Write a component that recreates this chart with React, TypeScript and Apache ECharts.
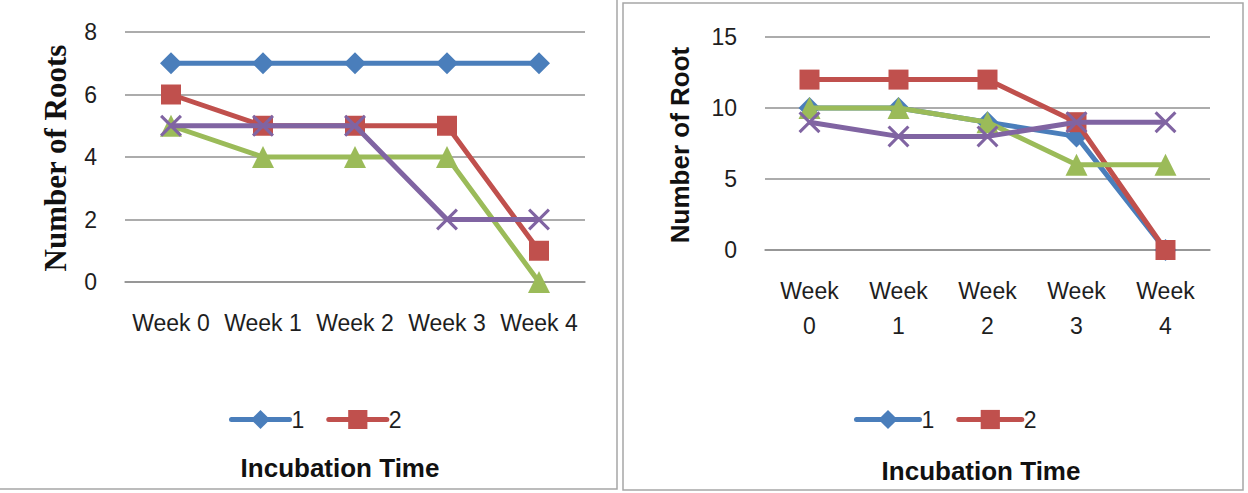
import React, { useEffect, useRef } from "react";
import * as echarts from "echarts";

const categories = ["Week 0", "Week 1", "Week 2", "Week 3", "Week 4"];
const seriesNames = ["1", "2", "3", "4"];
const leftS1 = [7, 7, 7, 7, 7];
const leftS2 = [6, 5, 5, 5, 1];
const leftS3 = [5, 4, 4, 4, 0];
const leftS4 = [5, 5, 5, 2, 2];
const rightS1 = [10, 10, 9, 8, 0];
const rightS2 = [12, 12, 12, 9, 0];
const rightS3 = [10, 10, 9, 6, 6];
const rightS4 = [9, 8, 8, 9, 9];
const legendItems = ["1", "2"];
const leftYName = "Number of Roots";
const rightYName = "Number of Root";
const xName = "Incubation Time";

const colors = ["#4A7EBB", "#C0504D", "#9BBB59", "#8064A2"];
const symbols = [
  "diamond",
  "rect",
  "triangle",
  "path://M0,1 L1,0 L5,4 L9,0 L10,1 L6,5 L10,9 L9,10 L5,6 L1,10 L0,9 L4,5 Z",
];
const symbolSizes = [22, 20, 22, 22];
const SANS = "Liberation Sans";

function makeSeries(data: number[][], idx: number) {
  return data.map((d, i) => ({
    type: "line",
    name: seriesNames[i],
    xAxisIndex: idx,
    yAxisIndex: idx,
    data: d,
    symbol: symbols[i],
    symbolSize: symbolSizes[i],
    showAllSymbol: true,
    lineStyle: { color: colors[i], width: 5 },
    itemStyle: { color: colors[i], borderWidth: 0 },
    emphasis: { disabled: true },
    z: 2 + i,
  }));
}

export default function App() {
  const ref = useRef<HTMLDivElement>(null);
  useEffect(() => {
    if (!ref.current) return;
    const chart = echarts.init(ref.current, null, { renderer: "svg" });
    const axisLabel = { color: "#1e1e1e", fontFamily: SANS, fontSize: 23 };
    const gridLine = { lineStyle: { color: "#909090", width: 1.5 } };
    const legendBase = {
      data: legendItems,
      top: 403,
      itemHeight: 24,
      itemGap: 22,
      lineStyle: { width: 5, cap: "round" },
      textStyle: { fontFamily: SANS, fontSize: 23, color: "#1e1e1e", padding: [0, 0, 0, -3] },
      selectedMode: false,
    };
    chart.setOption({
      animation: false,
      backgroundColor: "#fff",
      color: colors,
      grid: [
        { left: 125, right: 663, top: 32, bottom: 211 },
        { left: 765, right: 38, top: 37, bottom: 243 },
      ],
      xAxis: [
        {
          type: "category",
          gridIndex: 0,
          data: categories,
          boundaryGap: true,
          axisLine: { show: true, lineStyle: { color: "#909090", width: 1.5 } },
          axisTick: { show: false },
          axisLabel: { ...axisLabel, interval: 0, margin: 26, lineHeight: 30 },
        },
        {
          type: "category",
          gridIndex: 1,
          data: categories,
          boundaryGap: true,
          axisLine: { show: true, lineStyle: { color: "#909090", width: 1.5 } },
          axisTick: { show: false },
          axisLabel: {
            ...axisLabel,
            interval: 0,
            margin: 23,
            lineHeight: 35,
            formatter: (v: string) => v.replace(" ", "\n"),
          },
        },
      ],
      yAxis: [
        {
          type: "value",
          gridIndex: 0,
          min: 0,
          max: 8,
          interval: 2,
          axisLine: { show: false },
          axisTick: { show: false },
          splitLine: gridLine,
          axisLabel: { ...axisLabel, margin: 28 },
        },
        {
          type: "value",
          gridIndex: 1,
          min: 0,
          max: 15,
          interval: 5,
          axisLine: { show: false },
          axisTick: { show: false },
          splitLine: gridLine,
          axisLabel: { ...axisLabel, margin: 28 },
        },
      ],
      legend: [
        { ...legendBase, left: 224, itemWidth: 58 },
        { ...legendBase, left: 849, itemWidth: 63 },
      ],
      graphic: [
        {
          type: "rect",
          shape: { x: -5, y: -5, width: 622, height: 494 },
          style: { fill: "none", stroke: "#a6a6a6", lineWidth: 1.5 },
          silent: true,
        },
        {
          type: "rect",
          shape: { x: 623, y: 3, width: 620, height: 487 },
          style: { fill: "none", stroke: "#a6a6a6", lineWidth: 1.5 },
          silent: true,
        },
        {
          type: "text",
          x: 55,
          y: 158,
          rotation: Math.PI / 2,
          style: {
            text: leftYName,
            fontFamily: "Liberation Serif",
            fontWeight: "bold",
            fontSize: 31,
            fill: "#111",
            align: "center",
            verticalAlign: "middle",
          },
        },
        {
          type: "text",
          x: 680,
          y: 145,
          rotation: Math.PI / 2,
          style: {
            text: rightYName,
            fontFamily: SANS,
            fontWeight: "bold",
            fontSize: 26,
            fill: "#111",
            align: "center",
            verticalAlign: "middle",
          },
        },
        {
          type: "text",
          x: 340,
          y: 468,
          style: {
            text: xName,
            fontFamily: SANS,
            fontWeight: "bold",
            fontSize: 26,
            fill: "#111",
            align: "center",
            verticalAlign: "middle",
          },
        },
        {
          type: "text",
          x: 981,
          y: 471,
          style: {
            text: xName,
            fontFamily: SANS,
            fontWeight: "bold",
            fontSize: 26,
            fill: "#111",
            align: "center",
            verticalAlign: "middle",
          },
        },
      ],
      series: [
        ...makeSeries([leftS1, leftS2, leftS3, leftS4], 0),
        ...makeSeries([rightS1, rightS2, rightS3, rightS4], 1),
      ],
    });
    return () => chart.dispose();
  }, []);
  return (
    <div
      ref={ref}
      style={{ position: "absolute", left: 0, top: 0, width: 1248, height: 493 }}
    />
  );
}
